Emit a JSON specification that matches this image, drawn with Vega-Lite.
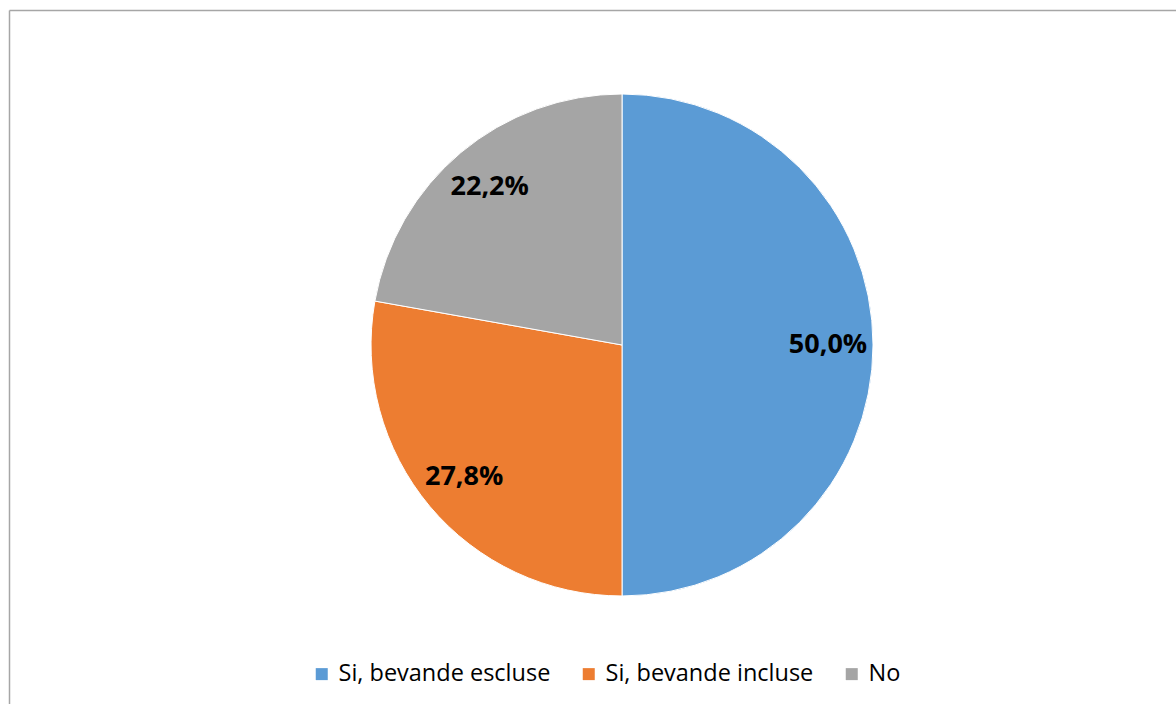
{
  "$schema": "https://vega.github.io/schema/vega-lite/v6.json",
  "width": 1167,
  "height": 694,
  "autosize": {"type": "none"},
  "padding": {"left": 9, "top": 10, "right": 0, "bottom": 0},
  "background": "white",
  "config": {
    "view": {"stroke": null},
    "locale": {"number": {"decimal": ",", "thousands": ".", "grouping": [3], "currency": ["", " €"], "percent": "%"}},
    "axis": {"domainColor": "#a6a6a6", "domainWidth": 1.5, "ticks": false, "labels": false, "grid": false, "title": null}
  },
  "data": {
    "values": [
      {"cat": "Si, bevande escluse", "share": 0.5, "idx": 1},
      {"cat": "Si, bevande incluse", "share": 0.278, "idx": 2},
      {"cat": "No", "share": 0.222, "idx": 3}
    ]
  },
  "encoding": {
    "theta": {"field": "share", "type": "quantitative", "stack": true},
    "order": {"field": "idx", "type": "quantitative"},
    "x": {"datum": 0.5253, "type": "quantitative", "scale": {"domain": [0, 1]}, "axis": {"orient": "top"}},
    "y": {"datum": 0.4827, "type": "quantitative", "scale": {"domain": [0, 1], "reverse": true}, "axis": {"orient": "left"}}
  },
  "layer": [
    {
      "mark": {"type": "arc", "outerRadius": 251, "stroke": "white", "strokeWidth": 1},
      "encoding": {
        "color": {
          "field": "cat", "type": "nominal",
          "scale": {"domain": ["Si, bevande escluse", "Si, bevande incluse", "No"], "range": ["#5b9bd5", "#ed7d31", "#a5a5a5"]},
          "legend": {
            "title": null, "orient": "none", "direction": "horizontal",
            "legendX": 301, "legendY": 652,
            "symbolType": "square", "symbolSize": 144, "symbolStrokeWidth": 0, "symbolOpacity": 1,
            "labelFont": "Open Sans", "labelFontSize": 23.5, "labelColor": "#000000", "labelLimit": 0,
            "columnPadding": 26, "labelOffset": 5
          }
        }
      }
    },
    {
      "mark": {"type": "text", "radius": 206, "font": "Open Sans", "fontSize": 27, "fontWeight": "bold", "color": "#000000"},
      "encoding": {
        "text": {"field": "share", "type": "quantitative", "format": ".1%"}
      }
    }
  ]
}
